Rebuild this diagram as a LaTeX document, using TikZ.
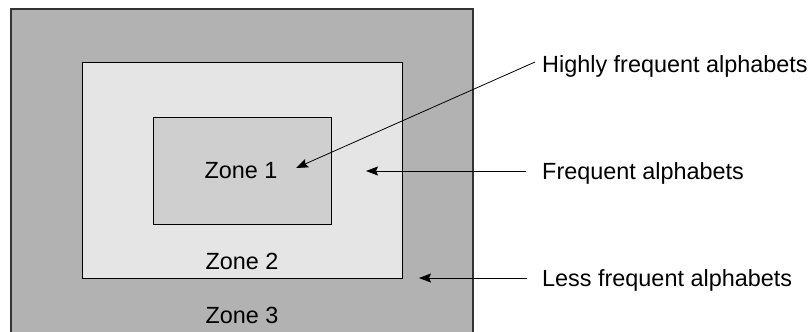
\documentclass[tikz,border=0pt]{standalone}
\usepackage{fontspec}
\setmainfont{Liberation Sans}
\usetikzlibrary{arrows.meta}
\begin{document}
\begin{tikzpicture}[x=1bp,y=-1bp,
  zonebox/.style={draw=black,line width=0.8bp,inner sep=0pt,outer sep=0pt},
  lbl/.style={inner sep=0pt,font=\fontsize{23.5}{28}\selectfont},
  pointer/.style={draw=black,line width=0.8bp,-{Stealth[length=12bp,width=9bp,inset=2bp]}}]
  \useasboundingbox (0,0) rectangle (811,331);
  \clip (0,0) rectangle (811,331);
  % nested zones
  \node[zonebox,fill=black!30,line width=1.2bp,draw=black!80,minimum width=462bp,minimum height=340bp,anchor=north west] (z3) at (11,9) {};
  \node[zonebox,fill=black!10,minimum width=320bp,minimum height=216bp,anchor=north west] (z2) at (82,62) {};
  \node[zonebox,fill=black!19,minimum width=178bp,minimum height=107bp,anchor=north west] (z1) at (153,117) {};
  % zone captions
  \node[lbl,anchor=base] (t1) at (241,178) {Zone 1};
  \node[lbl,anchor=base] (t2) at (242,269) {Zone 2};
  \node[lbl,anchor=base] (t3) at (242,323) {Zone 3};
  % side labels
  \node[lbl,anchor=base west] (hf) at (542,72) {Highly frequent alphabets};
  \node[lbl,anchor=base west] (fq) at (542,179) {Frequent alphabets};
  \node[lbl,anchor=base west] (lf) at (542,286) {Less frequent alphabets};
  % pointer ends
  \coordinate (hfs) at (535,62);
  \coordinate (hft) at (296,168);
  \coordinate (fqs) at (526,171);
  \coordinate (fqt) at (366,171);
  \coordinate (lfs) at (527,278);
  \coordinate (lft) at (419,278);
  \draw[pointer] (hfs) -- (hft);
  \draw[pointer] (fqs) -- (fqt);
  \draw[pointer] (lfs) -- (lft);
\end{tikzpicture}
\end{document}
